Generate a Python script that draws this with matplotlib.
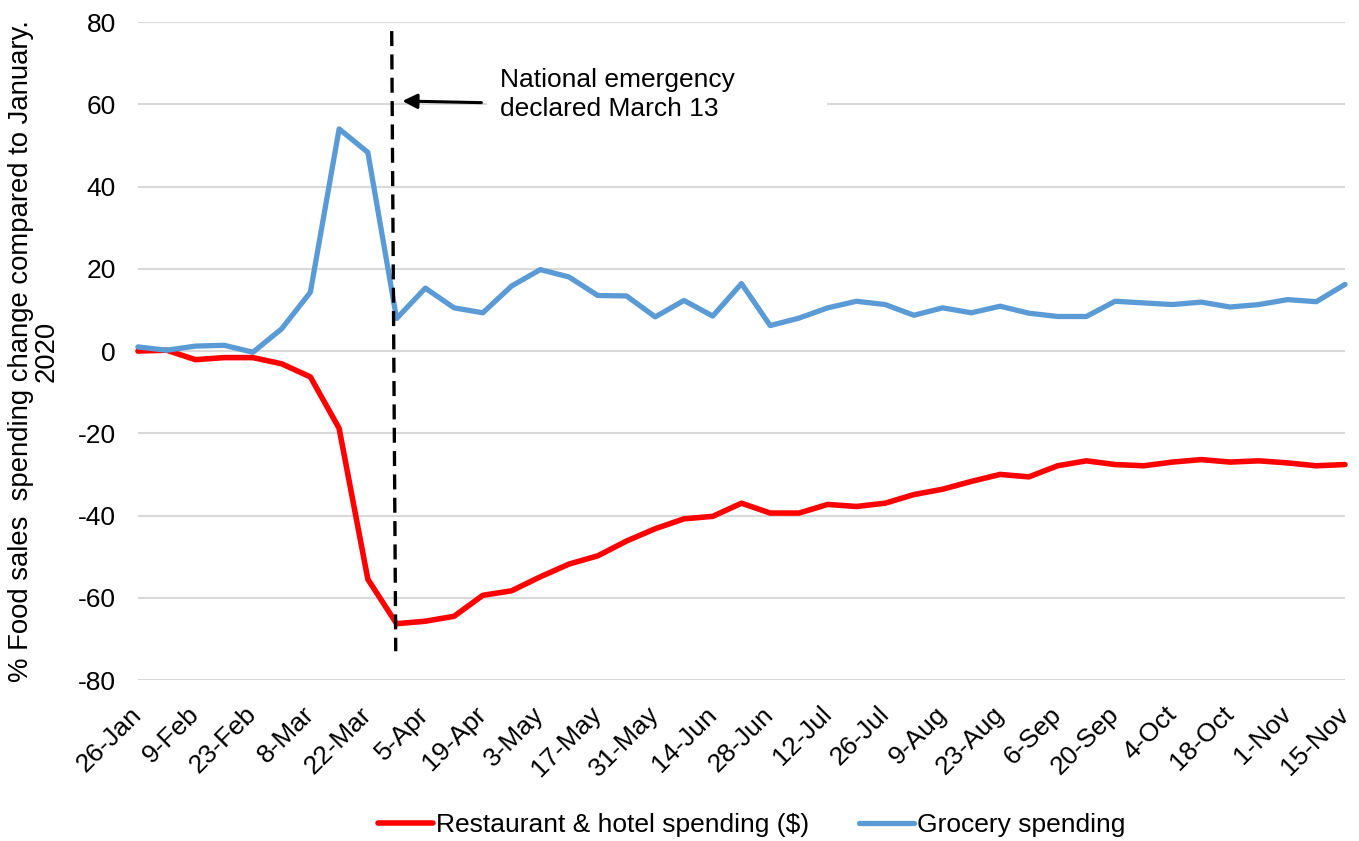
import matplotlib
matplotlib.use("Agg")
import matplotlib.pyplot as plt
import matplotlib.transforms as mtransforms
from matplotlib.patches import Rectangle

plt.rcParams['font.family'] = ['Liberation Sans', 'DejaVu Sans']

# weekly series, week 0 = 26-Jan ... week 42 = 15-Nov
restaurant = [0.0, 0.2, -2.1, -1.6, -1.6, -3.1, -6.3, -18.8, -55.5, -66.3,
              -65.7, -64.5, -59.4, -58.3, -54.9, -51.8, -49.8, -46.2, -43.2, -40.8,
              -40.2, -37.0, -39.4, -39.4, -37.3, -37.8, -37.0, -34.9, -33.6, -31.7,
              -30.0, -30.6, -27.9, -26.7, -27.6, -27.9, -27.0, -26.4, -27.0, -26.7,
              -27.2, -27.9, -27.6]
grocery = [1.0, 0.2, 1.2, 1.4, -0.3, 5.4, 14.3, 54.0, 48.3, 7.9,
           15.3, 10.5, 9.3, 15.8, 19.8, 18.0, 13.5, 13.4, 8.3, 12.3,
           8.5, 16.4, 6.2, 8.0, 10.5, 12.1, 11.3, 8.7, 10.5, 9.3,
           10.9, 9.2, 8.4, 8.4, 12.1, 11.7, 11.3, 11.9, 10.7, 11.3,
           12.5, 12.0, 16.2]
tick_labels = ['26-Jan', '9-Feb', '23-Feb', '8-Mar', '22-Mar', '5-Apr', '19-Apr',
               '3-May', '17-May', '31-May', '14-Jun', '28-Jun', '12-Jul', '26-Jul',
               '9-Aug', '23-Aug', '6-Sep', '20-Sep', '4-Oct', '18-Oct', '1-Nov',
               '15-Nov']
y_ticks = [-80, -60, -40, -20, 0, 20, 40, 60, 80]

weeks = list(range(len(grocery)))
fs = 19

fig = plt.figure(figsize=(13.59, 8.41), dpi=100)
ax = fig.add_axes([0.1015, 0.1914, 0.8882, 0.7824])

ax.plot(weeks, restaurant, color='#ff0000', lw=4.0, solid_capstyle='round',
        solid_joinstyle='round', clip_on=False, zorder=3,
        label='Restaurant & hotel spending ($)')
ax.plot(weeks, grocery, color='#5b9bd5', lw=3.8, solid_capstyle='round',
        solid_joinstyle='round', clip_on=False, zorder=3,
        label='Grocery spending')

# emergency marker
ax.plot([8.83, 8.97], [77.8, -73.0], color='black', lw=2.4,
        dashes=(4.5, 2.5), clip_on=False, zorder=4)
ax.add_patch(Rectangle((12.13, 55), 11.83, 15, facecolor='white',
                       edgecolor='none', zorder=1.5))
ax.annotate('', xy=(9.2, 60.8), xytext=(11.95, 60.4),
            arrowprops=dict(arrowstyle='-|>', color='black', lw=2.2,
                            mutation_scale=22, shrinkA=0, shrinkB=0),
            zorder=5)
ax.text(12.59, 62.3, 'National emergency\ndeclared March 13', fontsize=fs,
        ha='left', va='center', linespacing=1.25, zorder=5)

ax.set_xlim(0, 42)
ax.set_ylim(-80, 80)
ax.set_yticks(y_ticks)
ax.set_yticklabels([str(v) for v in y_ticks], fontsize=fs)
ax.set_xticks(weeks[::2])
ax.set_xticklabels(tick_labels, fontsize=fs, rotation=45, ha='right',
                   va='center', rotation_mode='anchor')
offset = mtransforms.ScaledTranslation(0.1, 0.0, fig.dpi_scale_trans)
for lbl in ax.get_xticklabels():
    lbl.set_transform(lbl.get_transform() + offset)
ax.tick_params(axis='both', length=0)
ax.tick_params(axis='y', pad=16)
ax.tick_params(axis='x', pad=22)

ax.grid(axis='y', color='#d9d9d9', lw=1.5, zorder=0)
ax.set_axisbelow(True)
for s in ax.spines.values():
    s.set_visible(False)

ax.set_ylabel('% Food sales  spending change compared to January.\n2020',
              fontsize=19.8, linespacing=1.0, labelpad=13)

fig.legend(loc='center', bbox_to_anchor=(0.553, 0.019), ncol=2, frameon=False,
           fontsize=fs, handlelength=2.1, handletextpad=0.1, columnspacing=1.9)

fig.savefig('out.png', dpi=100)
